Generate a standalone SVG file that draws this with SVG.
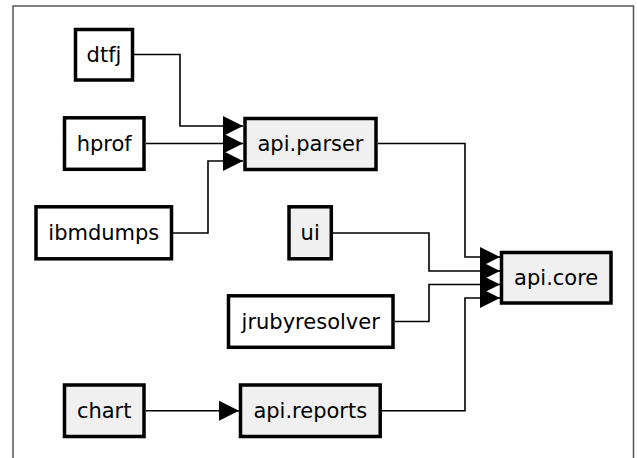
<svg xmlns="http://www.w3.org/2000/svg" width="637" height="458" viewBox="0 0 637 458">
<style>
.box{stroke:#000;stroke-width:3.5;fill:#fff}
.gray{fill:#f0f0f0}
.lbl{font-family:"DejaVu Sans",sans-serif;font-size:21px;fill:#000;text-anchor:middle}
.edge{fill:none;stroke:#000;stroke-width:1.6}
.frame{fill:none;stroke:#555;stroke-width:1.5}
</style>
<defs>
<marker id="arr" markerUnits="userSpaceOnUse" markerWidth="22" markerHeight="22" refX="20" refY="10.5" orient="auto" overflow="visible">
<path d="M0,0.5 L20,10.5 L0,20.5 Z" fill="#000"/>
</marker>
</defs>
<path class="frame" d="M13,462 V6 H633.5 V462"/>
<g id="connectors">
<path class="edge" marker-end="url(#arr)" d="M134,54.5 H180 V126 H243"/>
<path class="edge" marker-end="url(#arr)" d="M146,143.5 H243"/>
<path class="edge" marker-end="url(#arr)" d="M173,233 H208 V161 H243"/>
<path class="edge" marker-end="url(#arr)" d="M378,143.5 H465 V257 H500"/>
<path class="edge" marker-end="url(#arr)" d="M333,233 H429 V271 H500"/>
<path class="edge" marker-end="url(#arr)" d="M395,321.5 H429 V284.5 H500"/>
<path class="edge" marker-end="url(#arr)" d="M382,410.7 H465 V298 H500"/>
<path class="edge" marker-end="url(#arr)" d="M146,410.7 H239"/>
</g>
<g id="dtfj"><rect class="box" x="75.5" y="29.5" width="57" height="50.5"/><text class="lbl" x="104" y="62">dtfj</text></g>
<g id="hprof"><rect class="box" x="64.5" y="117.8" width="79.5" height="51.5"/><text class="lbl" x="104.2" y="150.7">hprof</text></g>
<g id="api.parser"><rect class="box gray" x="245" y="118.5" width="131" height="51"/><text class="lbl" x="310.5" y="151">api.parser</text></g>
<g id="ibmdumps"><rect class="box" x="36" y="206.8" width="135.5" height="52"/><text class="lbl" x="103.8" y="240">ibmdumps</text></g>
<g id="ui"><rect class="box gray" x="289" y="206.8" width="42.3" height="52"/><text class="lbl" x="310.2" y="240">ui</text></g>
<g id="jrubyresolver"><rect class="box" x="228.5" y="295.8" width="164.5" height="51.5"/><text class="lbl" x="310.7" y="328.7">jrubyresolver</text></g>
<g id="chart"><rect class="box gray" x="64.5" y="385" width="79.5" height="51.5"/><text class="lbl" x="104.2" y="418">chart</text></g>
<g id="api.reports"><rect class="box gray" x="240.5" y="385" width="139.7" height="51.5"/><text class="lbl" x="310.3" y="418">api.reports</text></g>
<g id="api.core"><rect class="box gray" x="501.5" y="252.5" width="109.5" height="50.5"/><text class="lbl" x="556.2" y="285">api.core</text></g>
</svg>
